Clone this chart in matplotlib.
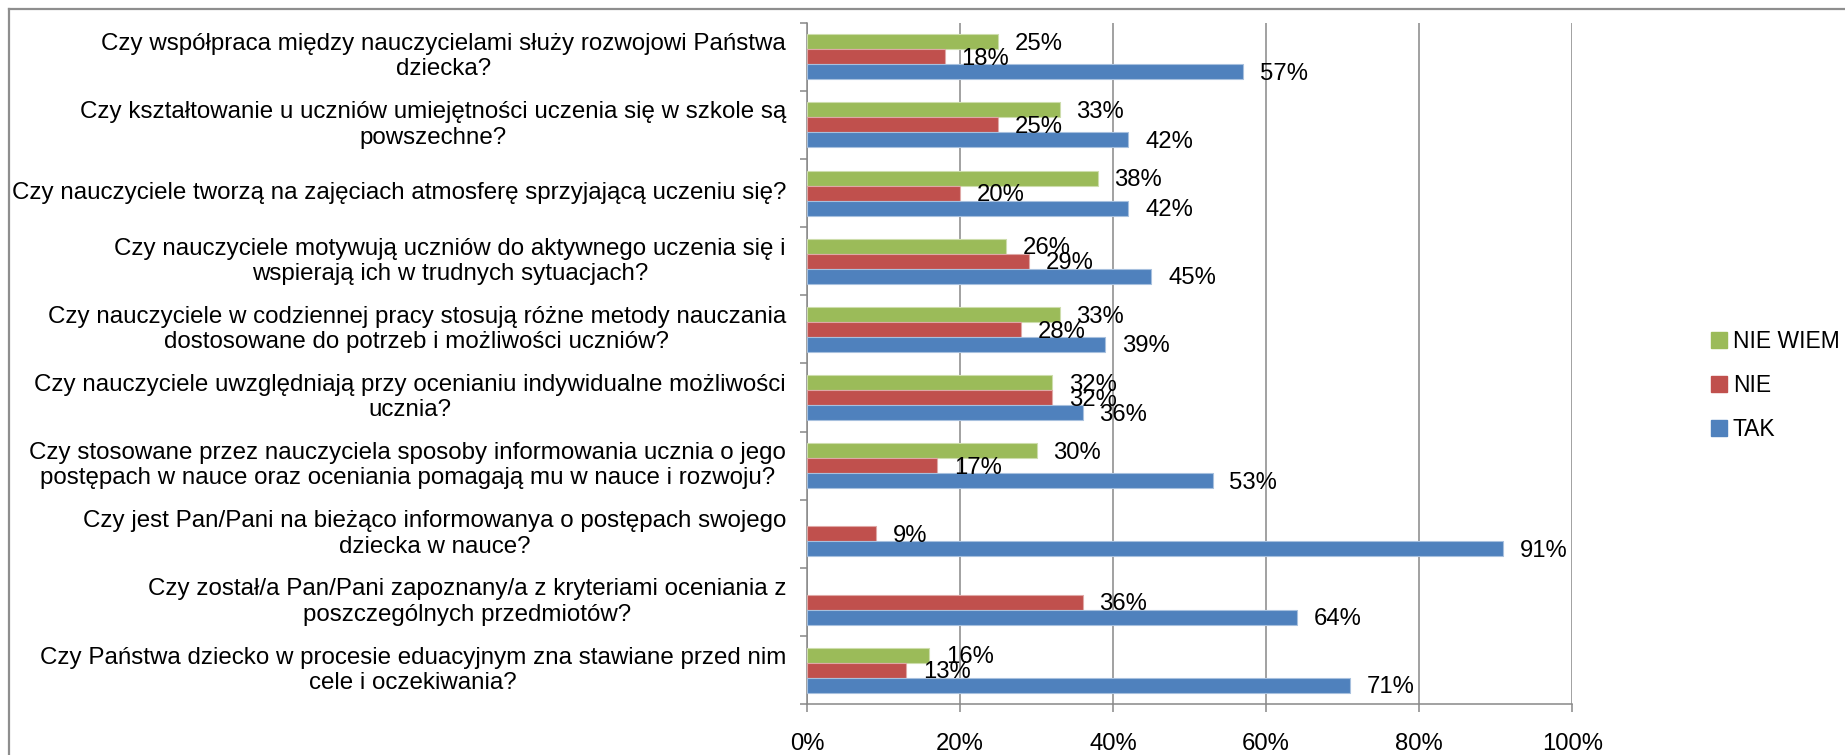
import numpy as np
import matplotlib
matplotlib.use("Agg")
import matplotlib.pyplot as plt
from matplotlib.patches import Patch
from matplotlib.lines import Line2D

plt.rcParams['font.family'] = ['Liberation Sans', 'DejaVu Sans']

categories = [
    "Czy współpraca między nauczycielami służy rozwojowi Państwa\ndziecka?",
    "Czy kształtowanie u uczniów umiejętności uczenia się w szkole są\npowszechne?",
    "Czy nauczyciele tworzą na zajęciach atmosferę sprzyjającą uczeniu się?",
    "Czy nauczyciele motywują uczniów do aktywnego uczenia się i\nwspierają ich w trudnych sytuacjach?",
    "Czy nauczyciele w codziennej pracy stosują różne metody nauczania\ndostosowane do potrzeb i możliwości uczniów?",
    "Czy nauczyciele uwzględniają przy ocenianiu indywidualne możliwości\nucznia?",
    "Czy stosowane przez nauczyciela sposoby informowania ucznia o jego\npostępach w nauce oraz oceniania pomagają mu w nauce i rozwoju?",
    "Czy jest Pan/Pani na bieżąco informowanya o postępach swojego\ndziecka w nauce?",
    "Czy został/a Pan/Pani zapoznany/a z kryteriami oceniania z\nposzczególnych przedmiotów?",
    "Czy Państwa dziecko w procesie eduacyjnym zna stawiane przed nim\ncele i oczekiwania?",
]
tak = [0.57, 0.42, 0.42, 0.45, 0.39, 0.36, 0.53, 0.91, 0.64, 0.71]
nie = [0.18, 0.25, 0.20, 0.29, 0.28, 0.32, 0.17, 0.09, 0.36, 0.13]
nie_wiem = [0.25, 0.33, 0.38, 0.26, 0.33, 0.32, 0.30, None, None, 0.16]
series_names = ["NIE WIEM", "NIE", "TAK"]
x_ticks = [0.0, 0.2, 0.4, 0.6, 0.8, 1.0]
x_tick_labels = ["0%", "20%", "40%", "60%", "80%", "100%"]

colors = {"TAK": "#4F81BD", "NIE": "#C0504D", "NIE WIEM": "#9BBB59"}
edges = {"TAK": "#A7C0DE", "NIE": "#DFA8A6", "NIE WIEM": "#CDDDAC"}
gray = "#888888"
FS_CAT = 17.4
FS_VAL = 17.2
FS = 16.5

W, H = 1845, 755
fig = plt.figure(figsize=(W / 100, H / 100), dpi=100)
ax = fig.add_axes([807 / W, 1 - 704.3 / H, (1572.3 - 807) / W, (704.3 - 22.7) / H])

n = len(categories)
ypos = np.arange(n)
bh = 0.22
data = {"NIE WIEM": nie_wiem, "NIE": nie, "TAK": tak}
offsets = {"NIE WIEM": -bh, "NIE": 0.0, "TAK": bh}

for name in series_names:
    vals = data[name]
    ys, vs = [], []
    for y, v in zip(ypos, vals):
        if v is None:
            continue
        ys.append(y + offsets[name])
        vs.append(v)
    ax.barh(ys, vs, height=bh, color=colors[name], edgecolor=edges[name],
            linewidth=0.8, zorder=3)
    for y, v in zip(ys, vs):
        ax.annotate(f"{round(v * 100)}%", xy=(v, y), xytext=(12, -1.5),
                    textcoords="offset points", va="center", ha="left",
                    fontsize=FS_VAL, color="black", zorder=4)

ax.set_xlim(0, 1)
ax.set_ylim(n - 0.5, -0.5)

ax.set_xticks(x_ticks)
ax.set_xticklabels(x_tick_labels, fontsize=FS_VAL)
ax.tick_params(axis="x", length=6, width=1.1, color=gray, pad=14.5, direction="out")
ax.xaxis.grid(True, color=gray, linewidth=1.1, zorder=0)

ax.set_yticks(np.arange(-0.5, n, 1.0))
ax.set_yticklabels([])
ax.tick_params(axis="y", length=5, width=1.1, color=gray, direction="out")

for y, lab in zip(ypos, categories):
    ax.text(-21 / 765.3, y, lab, transform=ax.get_yaxis_transform(),
            ha="right", va="center", multialignment="center",
            fontsize=FS_CAT, linespacing=1.2)

for s in ["top", "right"]:
    ax.spines[s].set_visible(False)
for s in ["left", "bottom"]:
    ax.spines[s].set_color(gray)
    ax.spines[s].set_linewidth(1.1)

handles = [Patch(facecolor=colors[nm], edgecolor=colors[nm]) for nm in series_names]
fig.legend(handles, series_names, loc="center left",
           bbox_to_anchor=(1711 / W, 1 - 385.5 / H), frameon=False,
           fontsize=FS, handlelength=0.7, handleheight=0.7,
           handletextpad=0.25, labelspacing=0.9, borderpad=0, borderaxespad=0)

# outer chart border (left and top edges visible)
fig.add_artist(Line2D([9 / W, 9 / W], [-0.05, 1 - 9 / H], transform=fig.transFigure,
                      color="#8E8E8E", linewidth=1.6))
fig.add_artist(Line2D([9 / W, 1.05], [1 - 9 / H, 1 - 9 / H], transform=fig.transFigure,
                      color="#8E8E8E", linewidth=1.6))

fig.savefig("out.png", dpi=100)
